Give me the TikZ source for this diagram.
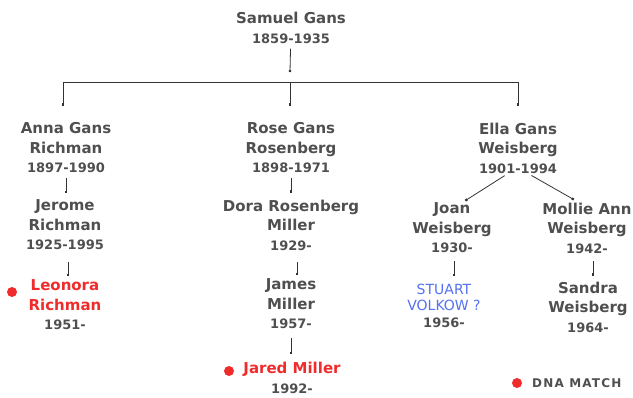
\documentclass[tikz,border=0pt]{standalone}
\usepackage{fontspec}
\setmainfont{DejaVu Sans}
\usetikzlibrary{arrows.meta}
\definecolor{ink}{HTML}{4F4F4F}
\definecolor{wire}{HTML}{333333}
\definecolor{matchred}{HTML}{F02B2B}
\definecolor{guessblue}{HTML}{5571F2}
\newcommand{\yrs}[1]{{\fontsize{13}{19.5}\selectfont #1}}
\begin{document}
\begin{tikzpicture}[x=1pt,y=-1pt,>={Square[length=2.2pt,width=2.2pt]},
  person/.style={align=center,inner sep=0pt,text=ink,
    font=\bfseries\fontsize{15}{19.5}\selectfont},
  link/.style={->,draw=wire,line width=.8pt,shorten <=7pt,shorten >=6pt},
  matchdot/.style={circle,fill=matchred,inner sep=0pt,minimum size=10pt}]
  \useasboundingbox (0,0) rectangle (633,397);
  % first generation
  \node [person] (samuel) at (291,28) {Samuel Gans\\\yrs{1859-1935}};
  \coordinate (top) at (290,72);
  \draw [link,shorten <=5pt,shorten >=0pt] (samuel) -- (top);
  \coordinate (bar-a) at (63,82);
  \coordinate (bar-b) at (290,82);
  \coordinate (bar-c) at (518,82);
  \draw [wire,line width=.8pt] (bar-a) -- (bar-c);
  % children
  \node [person] (anna) at (66,148) {Anna Gans\\Richman\\\yrs{1897-1990}};
  \node [person] (rose) at (291,148) {Rose Gans\\Rosenberg\\\yrs{1898-1971}};
  \node [person] (ella) at (518,148) {Ella Gans\\Weisberg\\\yrs{1901-1994}};
  \draw [link,shorten <=0pt,shorten >=17pt] (bar-a) -- (bar-a |- anna.north);
  \draw [link,shorten <=0pt,shorten >=17pt] (bar-b) -- (bar-b |- rose.north);
  \draw [link,shorten <=0pt,shorten >=17pt] (bar-c) -- (bar-c |- ella.north);
  % grandchildren
  \node [person] (jerome) at (65,225) {Jerome\\Richman\\\yrs{1925-1995}};
  \node [person] (dora) at (291,225) {Dora Rosenberg\\Miller\\\yrs{1929-}};
  \node [person] (joan) at (452,228) {Joan\\Weisberg\\\yrs{1930-}};
  \node [person] (mollie) at (587,228) {Mollie Ann\\Weisberg\\\yrs{1942-}};
  \draw [link,shorten <=5pt,shorten >=7pt] (anna) -- (anna |- jerome.north);
  \draw [link,shorten <=5pt,shorten >=7pt] (rose) -- (rose |- dora.north);
  \draw [link,shorten <=4pt,shorten >=4pt] ([xshift=-10pt]ella.south) -- ([xshift=10pt]joan.north);
  \draw [link,shorten <=4pt,shorten >=6pt] ([xshift=10pt]ella.south) -- ([xshift=-8pt]mollie.north);
  % great-grandchildren
  \node [person,text=matchred] (leonora) at (65,305) {Leonora\\Richman\\\textcolor{ink}{\yrs{1951-}}};
  \node [person] (james) at (291,304) {James\\Miller\\\yrs{1957-}};
  \node [person,text=guessblue,font=\fontsize{14}{16}\selectfont] (stuart) at (444,306)
    {STUART\\VOLKOW ?\\[1pt]\textcolor{ink}{\bfseries\yrs{1956-}}};
  \node [person] (sandra) at (588,307) {Sandra\\Weisberg\\\yrs{1964-}};
  \draw [link,shorten <=12pt,shorten >=4pt] ([xshift=3pt]jerome.south) -- ([xshift=3pt]jerome.south |- leonora.north);
  \draw [link,shorten <=12pt,shorten >=4pt] ([xshift=6pt]dora.south) -- ([xshift=6pt]dora.south |- james.north);
  \draw [link,shorten <=8pt,shorten >=8pt] ([xshift=2pt]joan.south) -- ([xshift=2pt]joan.south |- stuart.north);
  \draw [link,shorten <=8pt,shorten >=6pt] ([xshift=6pt]mollie.south) -- ([xshift=6pt]mollie.south |- sandra.north);
  \node [matchdot] (dot-leonora) at (12,292) {};
  % fourth generation
  \node [person] (jared) at (292,378) {\textcolor{matchred}{Jared Miller}\\\yrs{1992-}};
  \draw [link,shorten <=9pt,shorten >=8pt] (james) -- (james |- jared.north);
  \node [matchdot] (dot-jared) at (229,371) {};
  % legend
  \node [matchdot] (dot-key) at (517,383) {};
  \node [person,anchor=west,font=\bfseries\fontsize{12}{14}\selectfont\addfontfeature{LetterSpace=10}]
    (key) at (532,383) {DNA MATCH};
\end{tikzpicture}
\end{document}
